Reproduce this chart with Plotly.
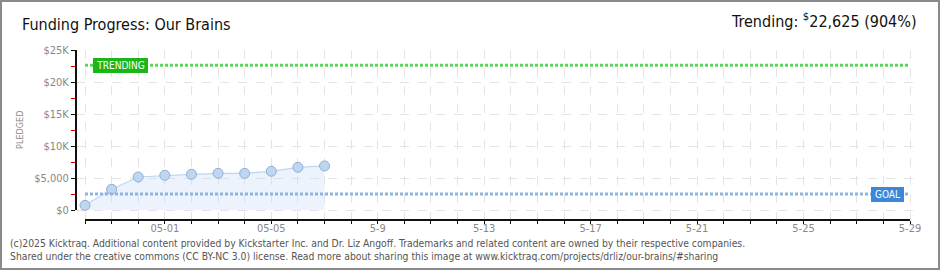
import datetime as dt
import plotly.graph_objects as go

# ---- data ----
dates = ["2025-04-28", "2025-04-29", "2025-04-30", "2025-05-01", "2025-05-02",
         "2025-05-03", "2025-05-04", "2025-05-05", "2025-05-06", "2025-05-07"]
pledged = [730, 3230, 5160, 5420, 5580, 5730, 5730, 6050, 6670, 6880]
goal = 2500
trending = 22625
y_tickvals = [0, 5000, 10000, 15000, 20000, 25000]
y_ticktext = ["$0", "$5,000", "$10K", "$15K", "$20K", "$25K"]
x_label_dates = ["2025-05-01", "2025-05-05", "2025-05-09", "2025-05-13",
                 "2025-05-17", "2025-05-21", "2025-05-25", "2025-05-29"]
x_label_text = ["05-01", "05-05", "5-9", "5-13", "5-17", "5-21", "5-25", "5-29"]
start_date = "2025-04-28"
end_date = "2025-05-29"

W, H = 940, 270
ML, MR, MT, MB = 76, 25, 50, 50
PW, PH = W - ML - MR, H - MT - MB

d0 = dt.datetime.fromisoformat(start_date)
d1 = dt.datetime.fromisoformat(end_date)
ndays = (d1 - d0).days
px_day = (910 - 85) / ndays
xr0 = d0 - dt.timedelta(days=(85 - ML) / px_day)
xr1 = d1 + dt.timedelta(days=(ML + PW - 910) / px_day)
px_k = (210 - 50) / 25000
yr0 = -(220 - 210) / px_k
yr1 = 25000

all_days = [(d0 + dt.timedelta(days=i)).strftime("%Y-%m-%d") for i in range(ndays + 1)]
all_text = [x_label_text[x_label_dates.index(d)] if d in x_label_dates else " " for d in all_days]

FONT = "DejaVu Sans Condensed, DejaVu Sans, sans-serif"

fig = go.Figure()
fig.add_trace(go.Scatter(
    x=dates, y=pledged, mode="lines+markers", fill="tozeroy",
    fillcolor="rgba(200,222,247,0.35)",
    line=dict(color="#bcd6f2", width=1.2),
    marker=dict(size=10, color="#bcd6f4", line=dict(color="#93aecb", width=1)),
    hoverinfo="skip", showlegend=False,
))
# trending & goal lines
fig.add_trace(go.Scatter(
    x=[start_date, end_date], y=[trending, trending], mode="lines",
    line=dict(color="#5fd35f", width=3, dash="3px,2px"),
    hoverinfo="skip", showlegend=False,
))
fig.add_trace(go.Scatter(
    x=[start_date, end_date], y=[goal, goal], mode="lines",
    line=dict(color="#8ab6e6", width=3, dash="3px,2px"),
    hoverinfo="skip", showlegend=False,
))

def px2paperx(px):
    return (px - ML) / PW

def px2papery(py):
    return (H - MB - py) / PH

shapes = []
# y axis line
shapes.append(dict(type="line", xref="paper", yref="y", x0=0, x1=0, y0=0, y1=25000,
                   line=dict(color="#111", width=2)))
# x axis line
shapes.append(dict(type="line", xref="x", yref="paper", x0=start_date, x1=end_date, y0=0, y1=0,
                   line=dict(color="#111", width=2)))
# outer border
shapes.append(dict(type="rect", xref="paper", yref="paper",
                   x0=px2paperx(1), x1=px2paperx(W - 1), y0=px2papery(H - 1), y1=px2papery(1),
                   line=dict(color="#8a8a8a", width=2), layer="above"))
fig.update_layout(shapes=shapes)

# label boxes
fig.add_annotation(x=px2paperx(93), xref="paper", xanchor="left", y=trending, yref="y",
                   text="TRENDING", showarrow=False,
                   font=dict(family=FONT, size=10, color="white"),
                   bgcolor="#19b619", bordercolor="#19b619", borderpad=1, width=51, height=11)
fig.add_annotation(x=px2paperx(904), xref="paper", xanchor="right", y=goal, yref="y",
                   text="GOAL", showarrow=False,
                   font=dict(family=FONT, size=10, color="white"),
                   bgcolor="#3b87d8", bordercolor="#3b87d8", borderpad=1, width=29, height=11)
# titles
fig.add_annotation(x=px2paperx(20), xref="paper", xanchor="left", y=px2papery(24), yref="paper",
                   yanchor="middle", text="Funding Progress: Our Brains", showarrow=False,
                   font=dict(family=FONT, size=16, color="#111"))
fig.add_annotation(x=px2paperx(919), xref="paper", xanchor="right", y=px2papery(21), yref="paper",
                   yanchor="middle", text="Trending: <sup>$</sup>22,625 (904%)", showarrow=False,
                   font=dict(family=FONT, size=16, color="#111"))
fig.add_annotation(x=px2paperx(20), xref="paper", xanchor="center", y=12500, yref="y",
                   text="PLEDGED", textangle=-90, showarrow=False,
                   font=dict(family=FONT, size=9, color="#888"))
# footer
fig.add_annotation(x=px2paperx(8), xref="paper", xanchor="left", y=px2papery(243), yref="paper",
                   yanchor="middle",
                   text="(c)2025 Kicktraq. Additional content provided by Kickstarter Inc. and Dr. Liz Angoff. Trademarks and related content are owned by their respective companies.",
                   showarrow=False, font=dict(family=FONT, size=10.3, color="#555"))
fig.add_annotation(x=px2paperx(8), xref="paper", xanchor="left", y=px2papery(256), yref="paper",
                   yanchor="middle",
                   text="Shared under the creative commons (CC BY-NC 3.0) license. Read more about sharing this image at www.kicktraq.com/projects/drliz/our-brains/#sharing",
                   showarrow=False, font=dict(family=FONT, size=10.3, color="#555"))

fig.update_layout(
    width=W, height=H, margin=dict(l=ML, r=MR, t=MT, b=MB),
    paper_bgcolor="white", plot_bgcolor="white",
    xaxis=dict(
        type="date", range=[xr0, xr1],
        tickmode="array", tickvals=all_days, ticktext=all_text,
        showgrid=True, gridcolor="#e4e4e4", griddash="dash", gridwidth=1,
        showline=False,
        ticks="outside", ticklen=3, tickcolor="#111", tickwidth=1,
        ticklabelstandoff=-5,
        tickfont=dict(family=FONT, size=11, color="#888"),
        zeroline=False, fixedrange=True,
    ),
    yaxis=dict(
        range=[yr0, yr1],
        tickmode="array", tickvals=y_tickvals, ticktext=y_ticktext,
        showgrid=True, gridcolor="#e4e4e4", griddash="dash", gridwidth=1,
        showline=False, zeroline=False,
        ticks="outside", ticklen=4, tickcolor="#111", tickwidth=1,
        tickfont=dict(family=FONT, size=11, color="#888"),
        minor=dict(tickvals=[2500, 7500, 12500, 17500, 22500], ticks="outside",
                   ticklen=4, tickcolor="#e00000", showgrid=False),
        fixedrange=True,
    ),
    showlegend=False,
)

fig.write_html("out.html")
